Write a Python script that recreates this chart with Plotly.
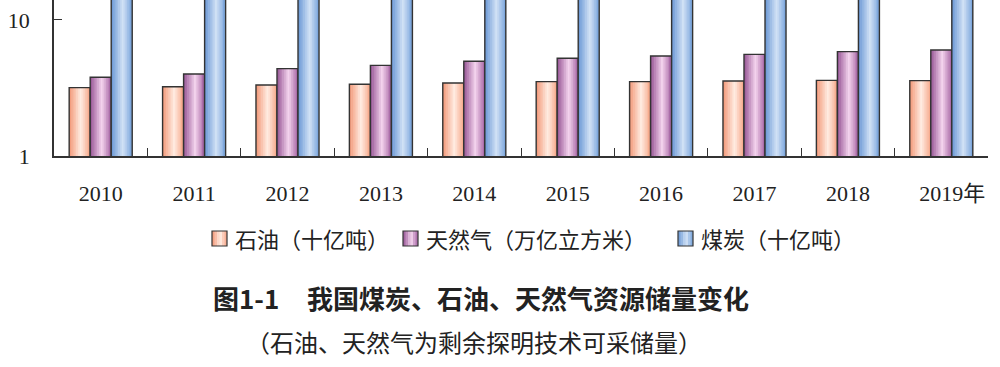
import plotly.graph_objects as go

# ---------------- data ----------------
years = ["2010", "2011", "2012", "2013", "2014", "2015", "2016", "2017", "2018", "2019"]
year_labels = ["2010", "2011", "2012", "2013", "2014", "2015", "2016", "2017", "2018",
               "\u00a0\u00a0\u00a0\u00a02019年"]
oil = [3.18, 3.23, 3.33, 3.37, 3.44, 3.52, 3.52, 3.56, 3.60, 3.58]      # 十亿吨
gas = [3.79, 4.01, 4.39, 4.64, 4.97, 5.23, 5.44, 5.59, 5.85, 6.02]      # 万亿立方米
coal = [279.4, 215.8, 229.9, 236.2, 240.0, 244.0, 249.4, 166.7, 171.9, 174.9]  # 十亿吨 (beyond top)
series_names = ["石油（十亿吨）", "天然气（万亿立方米）", "煤炭（十亿吨）"]
y_tick_vals = [1, 10]
y_tick_text = ["1", "10"]
title_num = "图1-1"
title_text = "我国煤炭、石油、天然气资源储量变化"
subtitle_text = "（石油、天然气为剩余探明技术可采储量）"

# ---------------- styling ----------------
gradients = [
    [(0.0, (242, 150, 118)), (0.55, (255, 236, 226)), (1.0, (246, 165, 135))],
    [(0.0, (150, 84, 148)), (0.55, (244, 212, 238)), (1.0, (164, 98, 162))],
    [(0.0, (104, 150, 212)), (0.55, (210, 226, 246)), (1.0, (118, 162, 218))],
]
outline = "#333333"
W = 1000
H = 367
L, R, T, B = 54, 12, 0, 211
PW = W - L - R
PH = H - T - B


def grad_color(stops, t):
    for (p0, c0), (p1, c1) in zip(stops[:-1], stops[1:]):
        if p0 <= t <= p1:
            f = (t - p0) / (p1 - p0)
            c = [round(a + (b - a) * f) for a, b in zip(c0, c1)]
            return "rgb(%d,%d,%d)" % tuple(c)
    return "rgb(%d,%d,%d)" % stops[-1][1]


def px(x):
    return (x - L) / PW


def py(y):
    return (T + PH - y) / PH


fig = go.Figure()

bar_w = 0.225
offsets = [-1.5 * bar_w, -0.5 * bar_w, 0.5 * bar_w]
NS = 12
for s, vals in enumerate([oil, gas, coal]):
    sw = bar_w / NS
    for i in range(NS):
        t = (i + 0.5) / NS
        fig.add_trace(go.Bar(
            x=years, y=vals,
            offset=offsets[s] + i * sw,
            width=sw * (1.35 if i < NS - 1 else 1.0),
            marker=dict(color=grad_color(gradients[s], t), line=dict(width=0)),
            showlegend=False, hoverinfo="skip",
        ))
    fig.add_trace(go.Bar(
        x=years, y=vals, offset=offsets[s], width=bar_w, name=series_names[s],
        marker=dict(color="rgba(0,0,0,0)", line=dict(color=outline, width=1.4)),
        showlegend=False,
    ))

# ---------------- manual legend ----------------
shapes = []
annotations = []
leg_sq_x = [212, 403, 678]
leg_tx_x = [233, 424, 699]
leg_y = 238.5
sq = 15
for s in range(3):
    x0 = leg_sq_x[s]
    n = 6
    for i in range(n):
        shapes.append(dict(
            type="rect", xref="paper", yref="paper",
            x0=px(x0 + i * sq / n), x1=px(x0 + (i + 1.2) * sq / n if i < n - 1 else x0 + sq),
            y0=py(leg_y - sq / 2), y1=py(leg_y + sq / 2),
            fillcolor=grad_color(gradients[s], (i + 0.5) / n), line=dict(width=0), layer="above",
        ))
    shapes.append(dict(
        type="rect", xref="paper", yref="paper",
        x0=px(x0), x1=px(x0 + sq), y0=py(leg_y - sq / 2), y1=py(leg_y + sq / 2),
        fillcolor="rgba(0,0,0,0)", line=dict(color=outline, width=1.2), layer="above",
    ))
    annotations.append(dict(
        text=series_names[s], xref="paper", yref="paper", x=px(leg_tx_x[s]), y=py(leg_y),
        xanchor="left", yanchor="middle", showarrow=False,
        font=dict(family="Noto Sans CJK SC", size=22, color="#222222"),
    ))

annotations.append(dict(
    text="<b>%s</b>" % title_num, xref="paper", yref="paper", x=px(211), y=py(297),
    xanchor="left", yanchor="middle", showarrow=False,
    font=dict(family="Noto Sans CJK SC", size=26, color="#222222"),
))
annotations.append(dict(
    text="<b>%s</b>" % title_text, xref="paper", yref="paper", x=px(305), y=py(297),
    xanchor="left", yanchor="middle", showarrow=False,
    font=dict(family="Noto Sans CJK SC", size=26, color="#222222"),
))
annotations.append(dict(
    text=subtitle_text, xref="paper", yref="paper", x=px(474), y=py(341),
    xanchor="center", yanchor="middle", showarrow=False,
    font=dict(family="Noto Sans CJK SC", size=24, color="#222222"),
))

fig.update_layout(
    width=W, height=H,
    margin=dict(l=L, r=R, t=T, b=B, pad=0),
    paper_bgcolor="white", plot_bgcolor="white",
    barmode="overlay",
    shapes=shapes, annotations=annotations,
    xaxis=dict(
        type="category", categoryorder="array", categoryarray=years,
        tickmode="array", tickvals=years, ticktext=year_labels, tickangle=0,
        tickson="boundaries", ticks="inside", ticklen=8, tickwidth=1.4, tickcolor=outline,
        showline=True, linecolor=outline, linewidth=1.5, showgrid=False, zeroline=False,
        range=[-0.5, 9.5], fixedrange=True,
        ticklabelstandoff=17,
        tickfont=dict(family="Liberation Serif, Noto Sans CJK SC", size=22, color="#222222"),
    ),
    yaxis=dict(
        type="log", range=[0, 1.147],
        tickmode="array", tickvals=y_tick_vals, ticktext=y_tick_text,
        ticks="inside", ticklen=8, tickwidth=1.4, tickcolor=outline,
        showline=True, linecolor=outline, linewidth=1.5, showgrid=False, zeroline=False,
        ticklabelstandoff=18, fixedrange=True,
        tickfont=dict(family="Liberation Serif", size=22, color="#222222"),
    ),
)

fig.write_html("out.html", config={"displayModeBar": False},
               post_script="document.body.style.margin='0';document.body.style.overflow='hidden';")
